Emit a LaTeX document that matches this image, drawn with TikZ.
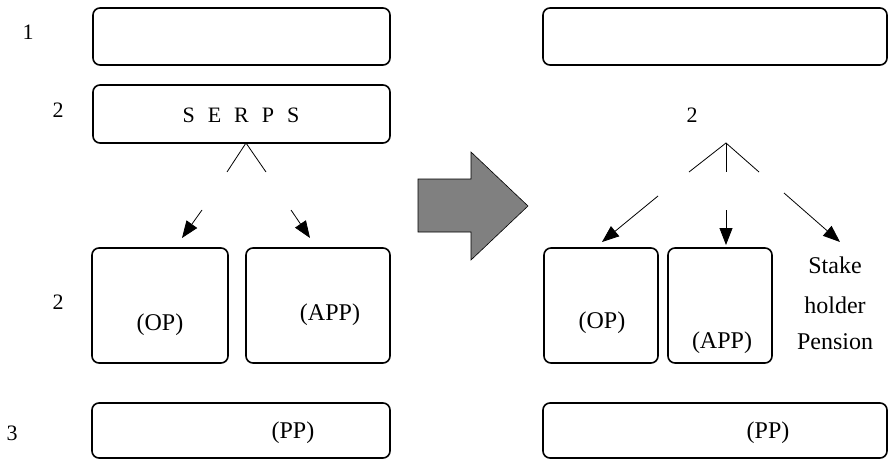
\documentclass[tikz,border=0pt]{standalone}
\usepackage{fontspec}
\setmainfont{Liberation Serif}
\usetikzlibrary{arrows.meta}
\definecolor{arrowgray}{RGB}{128,128,128}
\begin{document}
\begin{tikzpicture}[x=1pt,y=-1pt,
  box/.style={draw, line width=1.6pt, rounded corners=7pt, inner sep=0pt},
  lbl/.style={inner sep=0pt, font=\fontsize{22}{26}\selectfont},
  txt/.style={inner sep=0pt, font=\fontsize{24}{28}\selectfont},
  thinline/.style={line width=0.8pt},
  arr/.style={line width=0.8pt, -{Triangle[length=17pt,width=13pt]}}]
\useasboundingbox (0,0) rectangle (889,460);
% left column boxes
\node[box, minimum width=297pt, minimum height=57pt] (b1) at (241.5,36.5) {};
\node[box, minimum width=297pt, minimum height=58pt] (serps) at (241.5,114) {};
\node[box, minimum width=136pt, minimum height=115pt] (op) at (160,305.5) {};
\node[box, minimum width=144pt, minimum height=115pt] (app) at (318,305.5) {};
\node[box, minimum width=298pt, minimum height=55pt] (pp) at (241,430.5) {};
% right column boxes
\node[box, minimum width=344pt, minimum height=57pt] (r1) at (715,36.5) {};
\node[box, minimum width=114pt, minimum height=115pt] (rop) at (601,305.5) {};
\node[box, minimum width=104pt, minimum height=115pt] (rapp) at (720,305.5) {};
\node[box, minimum width=344pt, minimum height=55pt] (rpp) at (715,430.5) {};
% row labels
\node[lbl] (n1) at (28,32) {1};
\node[lbl] (n2a) at (58,110) {2};
\node[lbl] (n2b) at (58,302) {2};
\node[lbl] (n3) at (12,433) {3};
\node[lbl] (n2r) at (692,115) {2};
% texts
\node[lbl] (tserps) at (241,115) {S\hspace{13pt}E\hspace{13pt}R\hspace{13pt}P\hspace{13pt}S};
\node[txt] (top) at (160,325) {(OP)};
\node[txt] (tapp) at (330,315) {(APP)};
\node[txt] (tpp) at (293,433) {(PP)};
\node[txt] (trop) at (602,323) {(OP)};
\node[txt] (trapp) at (722,343) {(APP)};
\node[txt] (trpp) at (768,433) {(PP)};
\node[txt] (stake) at (835,265) {Stake};
\node[txt] (holder) at (835,305) {holder};
\node[txt] (pension) at (835,342) {Pension};
% left tree
\coordinate (la) at (246,143);
\coordinate (l1) at (227,172);
\coordinate (l2) at (266,172);
\draw[thinline] (l1) -- (la) -- (l2);
\coordinate (las) at (202,210);
\coordinate (lat) at (182,238);
\coordinate (lbs) at (291,210);
\coordinate (lbt) at (310,238);
\draw[arr] (las) -- (lat);
\draw[arr] (lbs) -- (lbt);
% right tree
\coordinate (ra) at (726,143);
\coordinate (r1e) at (689,172);
\coordinate (r2e) at (726,172);
\coordinate (r3e) at (759,172);
\draw[thinline] (r1e) -- (ra) -- (r3e);
\draw[thinline] (ra) -- (r2e);
\coordinate (ras) at (658,196);
\coordinate (rat) at (602,242);
\coordinate (rbs) at (726,210);
\coordinate (rbt) at (726,245);
\coordinate (rcs) at (784,193);
\coordinate (rct) at (840,242);
\draw[arr] (ras) -- (rat);
\draw[arr] (rbs) -- (rbt);
\draw[arr] (rcs) -- (rct);
% big gray arrow
\draw[fill=arrowgray, line width=0.6pt] (418,179) -- (471,179) -- (471,152) -- (528,206) -- (471,260) -- (471,232) -- (418,232) -- cycle;
\end{tikzpicture}
\end{document}
